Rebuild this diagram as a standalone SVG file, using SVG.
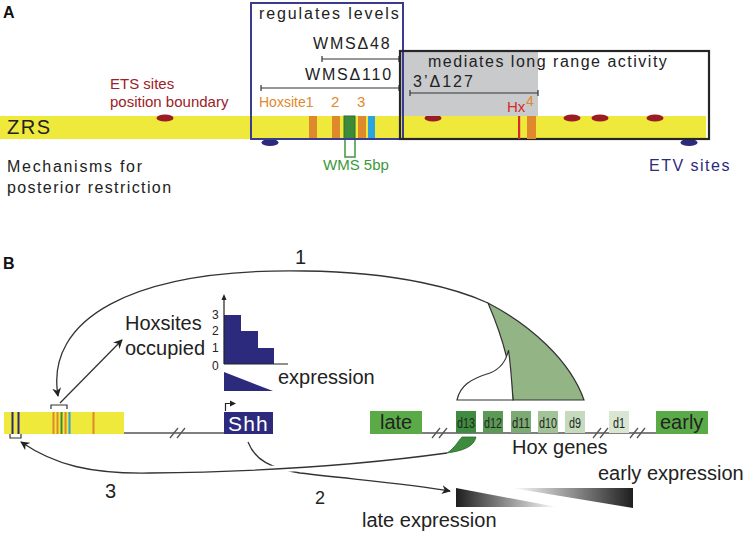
<svg xmlns="http://www.w3.org/2000/svg" width="747" height="537" viewBox="0 0 747 537">
<style>
text{font-family:"Liberation Sans",Arial,sans-serif;}
.a{font-size:16px;letter-spacing:1.8px;fill:#222;}
.b{font-size:20px;fill:#222;}
.hdr{font-size:16px;font-weight:bold;fill:#111;}
.yel{fill:#efe93b;}
.or{fill:#e0892c;}
.nv{fill:#2c2a7d;}
.ets{fill:#9a1c24;}
.rng{stroke:#333;stroke-width:1.2;fill:none;}
.ln{stroke:#555;stroke-width:1.3;fill:none;}
.cv{stroke:#333;stroke-width:1.3;fill:none;}
.dl{font-size:14px;fill:#1f281f;}
</style>
<defs>
<marker id="ah" viewBox="0 0 10 10" refX="9" refY="5" markerWidth="9" markerHeight="9" markerUnits="userSpaceOnUse" orient="auto-start-reverse">
<path d="M0,0 L10,5 L0,10 L3,5 Z" fill="#222"/>
</marker>
<linearGradient id="gl" x1="0" y1="0" x2="1" y2="0">
<stop offset="0" stop-color="#1e1e1e"/><stop offset="1" stop-color="#ffffff"/>
</linearGradient>
<linearGradient id="ge" x1="0" y1="0" x2="1" y2="0">
<stop offset="0" stop-color="#ffffff"/><stop offset="1" stop-color="#1e1e1e"/>
</linearGradient>
</defs>

<!-- Panel A -->
<g id="panelA">
<text class="hdr" x="3" y="18">A</text>
<g id="zrs-bar">
<rect class="yel" x="0" y="116" width="706" height="23"/>
<text class="a" x="7" y="134" style="font-size:20px;letter-spacing:1.5px">ZRS</text>
</g>
<g id="mechanisms">
<text class="a" x="7" y="172" style="letter-spacing:1.7px">Mechanisms for</text>
<text class="a" x="7" y="193" style="letter-spacing:1.4px">posterior restriction</text>
</g>
<g id="ets-label">
<text x="110" y="89" style="font-size:15px;fill:#9b2226">ETS sites</text>
<text x="110" y="107" style="font-size:15px;fill:#9b2226">position boundary</text>
</g>
<g id="ets-sites">
<ellipse class="ets" cx="165" cy="118" rx="8.5" ry="3.6"/>
<ellipse class="ets" cx="433" cy="118" rx="8.5" ry="3.6"/>
<ellipse class="ets" cx="572" cy="118" rx="8.5" ry="3.6"/>
<ellipse class="ets" cx="600" cy="118" rx="8.5" ry="3.6"/>
<ellipse class="ets" cx="655" cy="118" rx="8.5" ry="3.6"/>
</g>
<g id="etv-sites">
<ellipse class="nv" cx="270" cy="142.5" rx="8.5" ry="3.6"/>
<ellipse class="nv" cx="689" cy="142.5" rx="8.5" ry="3.6"/>
<text x="649" y="171" style="font-size:16px;letter-spacing:1.5px;fill:#2c2a7d">ETV sites</text>
</g>
<g id="hoxsites-A">
<rect class="or" x="309" y="116" width="8" height="23"/>
<rect class="or" x="332" y="116" width="8" height="23"/>
<rect x="344" y="116" width="11" height="23" fill="#3d8a3a" stroke="#2e6e2e" stroke-width="1"/>
<rect class="or" x="358" y="116" width="8" height="23"/>
<rect x="368" y="116" width="7" height="23" fill="#2aa3e0"/>
<text x="259" y="107" style="font-size:14px;fill:#e0892c">Hoxsite1</text>
<text x="331" y="107" style="font-size:15px;fill:#e0892c">2</text>
<text x="357" y="107" style="font-size:15px;fill:#e0892c">3</text>
</g>
<g id="wms5bp">
<rect x="345" y="139" width="10" height="18" fill="none" stroke="#3a9a3a" stroke-width="1.5"/>
<text x="323" y="170" style="font-size:15px;fill:#3a9a3a">WMS 5bp</text>
</g>
<g id="mediates-box">
<rect x="400" y="51" width="138" height="65" fill="#c9cacc"/>
</g>
<g id="regulates-box">
<rect x="251" y="3" width="152" height="136" fill="none" stroke="#3b3b8f" stroke-width="2"/>
<text class="a" x="259" y="19" style="letter-spacing:1.9px">regulates levels</text>
<text class="a" x="313" y="49">WMSΔ48</text>
<path class="rng" d="M322,59 H399 M322,56 V62 M399,56 V62"/>
<text class="a" x="305" y="80">WMSΔ110</text>
<path class="rng" d="M261,88 H399 M261,85 V91 M399,85 V91"/>
</g>
<g id="mediates-frame">
<rect x="400" y="51" width="309" height="88" fill="none" stroke="#262626" stroke-width="2.2"/>
<text class="a" x="428" y="67" style="letter-spacing:1.5px">mediates long range activity</text>
<text class="a" x="413" y="87" style="letter-spacing:2px">3’Δ127</text>
<path class="rng" d="M410,93 H538 M410,90 V96 M538,90 V96"/>
</g>
<g id="hx4">
<rect x="518" y="116" width="2.2" height="23" fill="#d42a2a"/>
<rect class="or" x="527" y="116" width="9" height="23"/>
<text x="507" y="112" style="font-size:15px;fill:#d42a2a">Hx</text>
<text x="526" y="106" style="font-size:14px;fill:#e0892c">4</text>
</g>
</g>

<!-- Panel B -->
<g id="panelB">
<text class="hdr" x="3" y="269">B</text>
<text class="b" x="295" y="264">1</text>
<text class="b" x="315" y="504" style="font-size:18px">2</text>
<text class="b" x="105" y="498">3</text>

<g id="lines">
<path class="ln" d="M124,433 H224"/>
<path class="ln" d="M170,438 L178,428 M177,438 L185,428"/>
<path class="ln" d="M422,433 H656"/>
<path class="ln" d="M432,438 L440,428 M439,438 L447,428"/>
<path class="ln" d="M593,438 L601,428 M600,438 L608,428"/>
<path class="ln" d="M630,438 L638,428 M637,438 L645,428"/>
</g>

<g id="zrs-B">
<rect class="yel" x="4" y="412" width="120" height="22"/>
<rect class="nv" x="11.5" y="412" width="2" height="22"/>
<rect class="nv" x="17.5" y="412" width="2" height="22"/>
<rect class="or" x="52.5" y="412" width="2" height="22"/>
<rect class="or" x="56.5" y="412" width="2" height="22"/>
<rect x="60.5" y="412" width="2" height="22" fill="#3d8a3a"/>
<rect class="or" x="64.5" y="412" width="2" height="22"/>
<rect x="68.5" y="412" width="2" height="22" fill="#2aa3e0"/>
<rect class="or" x="92.5" y="412" width="2" height="22"/>
<path class="rng" d="M51,409 V405 H67 V409"/>
<path class="rng" d="M10,434 V438 H21 V434"/>
</g>

<g id="shh">
<rect class="nv" x="224" y="412" width="49" height="22"/>
<text x="228" y="431" style="font-size:21px;letter-spacing:1.2px;fill:#fff">Shh</text>
<path d="M225.5,411 V403.5 H231" fill="none" stroke="#222" stroke-width="1.2"/>
<path d="M230,400.5 L236,403.5 L230,406.5 Z" fill="#222"/>
</g>

<g id="hoxsites-chart">
<text class="b" x="125" y="330">Hoxsites</text>
<text class="b" x="125" y="355">occupied</text>
<path class="nv" d="M224,364 V315 H241 V331 H258 V348 H274 V364 Z"/>
<path d="M224,364 V299 M224,364 H288" fill="none" stroke="#222" stroke-width="1.2"/>
<path d="M221.5,300 L224,294 L226.5,300 Z" fill="#222"/>
<g style="font-size:12px;fill:#222">
<text x="212" y="319">3</text><text x="212" y="335">2</text><text x="212" y="352">1</text><text x="212" y="370">0</text>
</g>
<path class="nv" d="M224,372 V391 H273 Z"/>
<text class="b" x="278" y="384">expression</text>
</g>

<g id="late">
<rect x="370" y="411" width="52" height="23" fill="#5aab48"/>
<text class="b" x="380" y="429">late</text>
</g>
<g id="early">
<rect x="656" y="411" width="52" height="23" fill="#5aab48"/>
<text class="b" x="660" y="429">early</text>
</g>
<g id="hox-genes">
<rect x="456" y="411" width="20" height="22" fill="#3f8b3f"/>
<rect x="483" y="411" width="20" height="22" fill="#5b9a55"/>
<rect x="511" y="411" width="20" height="22" fill="#7bab72"/>
<rect x="538" y="411" width="20" height="22" fill="#a2c397"/>
<rect x="565" y="411" width="20" height="22" fill="#c6dbbd"/>
<rect x="609" y="411" width="20" height="22" fill="#d8e6d2"/>
<text class="dl" x="457" y="428" textLength="18" lengthAdjust="spacingAndGlyphs">d13</text>
<text class="dl" x="484" y="428" textLength="18" lengthAdjust="spacingAndGlyphs">d12</text>
<text class="dl" x="512" y="428" textLength="18" lengthAdjust="spacingAndGlyphs">d11</text>
<text class="dl" x="539" y="428" textLength="18" lengthAdjust="spacingAndGlyphs">d10</text>
<text class="dl" x="569" y="428" textLength="12" lengthAdjust="spacingAndGlyphs">d9</text>
<text class="dl" x="613" y="428" textLength="12" lengthAdjust="spacingAndGlyphs">d1</text>
<text class="b" x="512" y="454">Hox genes</text>
</g>

<g id="expression-gradients">
<path d="M456,488 V507 H557 Z" fill="url(#gl)"/>
<path d="M512,488 H633 V508 Z" fill="url(#ge)"/>
<text class="b" x="598" y="480">early expression</text>
<text class="b" x="362" y="527">late expression</text>
</g>

<g id="connectors">
<path class="cv" d="M58,396 C45,320 130,268 305,271 C400,272 460,290 488,303" marker-start="url(#ah)"/>
<path d="M488,303 C530,325 570,360 584,400 L513,400 C511,372 506,345 488,303 Z" fill="#93b485" stroke="#333" stroke-width="1.2"/>
<path d="M457,400 C460,386 470,379 490,373 C500,369 506,362 508.5,350 C511,368 512,385 513,400 Z" fill="#fff" stroke="#333" stroke-width="1.2"/>
<path class="cv" d="M60,403 L122,340" marker-end="url(#ah)"/>
<path class="cv" d="M248,442 C255,460 270,468 300,473 C360,480 410,484 450,491" marker-end="url(#ah)"/>
<path d="M447,453 C360,465 250,472 150,473 C90,474 55,465 21,442" fill="none" stroke="#fff" stroke-width="7"/>
<path class="cv" d="M447,453 C360,465 250,472 150,473 C90,474 55,465 21,442" marker-end="url(#ah)"/>
<path d="M447,453 C455,448 458,441 462,437 L476,437 C474,447 462,451 447,453 Z" fill="#3d8b3d" stroke="#2d6a2d" stroke-width="0.8"/>
</g>
</g>
</svg>
